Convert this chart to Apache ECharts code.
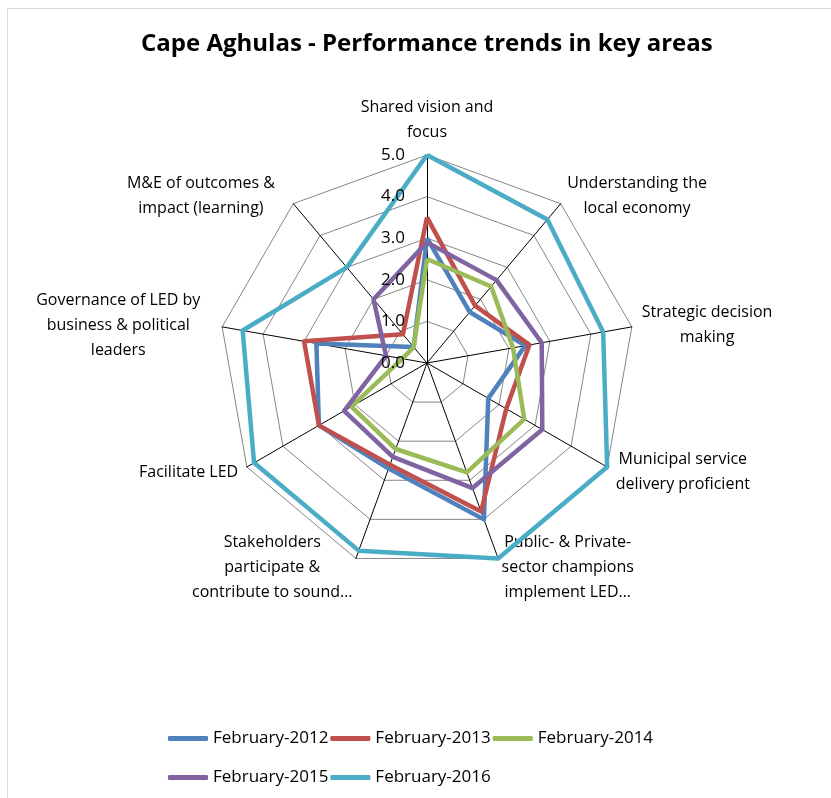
<!DOCTYPE html>
<html>
<head>
<meta charset="utf-8">
<script src="https://cdn.jsdelivr.net/npm/echarts@6/dist/echarts.min.js"></script>
<style>
  html, body { margin: 0; padding: 0; background: #ffffff; }
  #frame { position: absolute; left: 7px; top: 8px; width: 900px; height: 900px; border: 1px solid #d9d9d9; box-sizing: border-box; }
  #chart { position: absolute; left: 0; top: 0; width: 831px; height: 798px; }
</style>
</head>
<body>
<div id="frame"></div>
<div id="chart"></div>
<script>
const titleText = 'Cape Aghulas - Performance trends in key areas';
const categories = [
  'Shared vision and\nfocus',
  'Understanding the\nlocal economy',
  'Strategic decision\nmaking',
  'Municipal service\ndelivery proficient',
  'Public- & Private-\nsector champions\nimplement LED…',
  'Stakeholders\nparticipate &\ncontribute to sound…',
  'Facilitate LED',
  'Governance of LED by\nbusiness & political\nleaders',
  'M&E of outcomes &\nimpact (learning)'
];
const seriesNames = ['February-2012', 'February-2013', 'February-2014', 'February-2015', 'February-2016'];
const feb2012 = [3.0, 1.6, 2.4, 1.7, 4.0, 2.7, 3.0, 2.7, 0.5];
const feb2013 = [3.5, 1.8, 2.5, 2.2, 3.8, 2.6, 3.0, 3.0, 0.9];
const feb2014 = [2.5, 2.4, 2.1, 2.7, 2.8, 2.2, 2.1, 0.6, 0.5];
const feb2015 = [2.9, 2.6, 2.8, 3.2, 3.2, 2.4, 2.3, 1.0, 2.0];
const feb2016 = [5.0, 4.5, 4.3, 5.0, 5.0, 4.8, 4.8, 4.5, 3.0];
const scaleMin = 0;
const scaleMax = 5;
const scaleStep = 1;

const colors = ['#4F81BD', '#C0504D', '#9BBB59', '#8064A2', '#4BACC6'];
const allValues = [feb2012, feb2013, feb2014, feb2015, feb2016];
const FONT = '"Open Sans", "Noto Sans", sans-serif';
const CENTER = [427, 363];
const RADIUS = 208;

// ECharts radar runs counter-clockwise; Excel runs clockwise.
// Keep the first axis at the top and reverse the rest.
const order = [0].concat(categories.map((_, i) => i).slice(1).reverse());
const reorder = arr => order.map(i => arr[i]);
// upper-left names sit a little further from the axis ends in the original
const widerGapNames = [categories[7], categories[8]];

const chart = echarts.init(document.getElementById('chart'), null, { renderer: 'canvas' });

const legendCommon = {
  orient: 'horizontal', padding: 0,
  icon: 'roundRect', itemWidth: 40, itemHeight: 5, itemGap: 2,
  textStyle: { fontFamily: FONT, fontSize: 17, color: '#000' }
};

const nameRich = { align: 'center', fontFamily: FONT, fontSize: 16, lineHeight: 25, color: '#000' };

const option = {
  backgroundColor: 'transparent',
  animation: false,
  color: colors,
  title: {
    text: titleText,
    left: 136,
    top: 27,
    textStyle: { fontFamily: FONT, fontWeight: 'bold', fontSize: 24, color: '#000' }
  },
  legend: [
    Object.assign({ data: seriesNames.slice(0, 3), left: 168, top: 730 }, legendCommon),
    Object.assign({ data: seriesNames.slice(3), left: 168, top: 769 }, legendCommon)
  ],
  radar: {
    center: CENTER,
    radius: RADIUS,
    startAngle: 90,
    splitNumber: (scaleMax - scaleMin) / scaleStep,
    shape: 'polygon',
    indicator: reorder(categories).map(n => ({ name: n, min: scaleMin, max: scaleMax })),
    nameGap: 10,
    axisName: {
      color: '#000',
      fontFamily: FONT,
      fontSize: 16,
      lineHeight: 25,
      formatter: function (name) {
        const key = widerGapNames.indexOf(name) >= 0 ? 'b' : 'a';
        return name.split('\n').map(l => '{' + key + '|' + l + '}').join('\n');
      },
      rich: {
        a: nameRich,
        b: Object.assign({ padding: [0, 12, 0, 0] }, nameRich)
      }
    },
    axisLine: { lineStyle: { color: '#000', width: 1 } },
    splitLine: { lineStyle: { color: '#868686', width: 1 } },
    splitArea: { show: false },
    axisTick: { show: false },
    axisLabel: { show: false }
  },
  polar: { center: CENTER, radius: RADIUS },
  angleAxis: { show: false, startAngle: 90, min: 0, max: 360 },
  radiusAxis: {
    min: scaleMin, max: scaleMax, interval: scaleStep,
    axisLine: { show: false }, axisTick: { show: false }, splitLine: { show: false },
    axisLabel: {
      margin: 22,
      padding: [4, 0, 0, 0],
      fontFamily: FONT, fontSize: 17, color: '#000',
      formatter: v => Number(v).toFixed(1)
    },
    z: 10
  },
  series: [
    {
      type: 'radar',
      symbol: 'none',
      data: allValues.map((vals, i) => ({
        name: seriesNames[i],
        value: reorder(vals),
        lineStyle: { color: colors[i], width: 4.5 },
        itemStyle: { color: colors[i] }
      })),
      z: 5
    },
    {
      type: 'scatter',
      coordinateSystem: 'polar',
      data: [],
      silent: true
    }
  ]
};
chart.setOption(option);
</script>
</body>
</html>
